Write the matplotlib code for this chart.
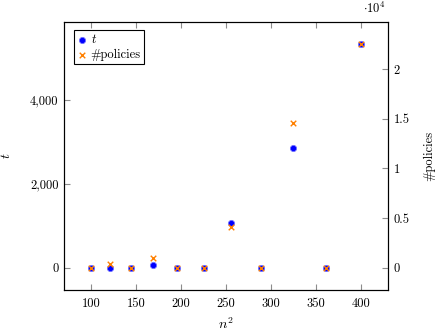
import numpy as np
import matplotlib.pyplot as plt
from matplotlib.ticker import FuncFormatter

plt.rcParams['font.family'] = 'cmr10'
plt.rcParams['mathtext.fontset'] = 'cm'
plt.rcParams['axes.unicode_minus'] = False
plt.rcParams['font.size'] = 9

#%% data
n_sq = [100, 121, 144, 169, 196, 225, 256, 289, 324, 361, 400]
t_vals = [0, 0, 0, 70, 0, 0, 1070, 0, 2850, 0, 5330]
policies = [0, 330, 0, 1000, 0, 0, 4100, 0, 14600, 0, 22500]

#%%
fig = plt.figure(figsize=(4.36, 3.34), dpi=100)
ax = fig.add_axes([0.1468, 0.1317, 0.7431, 0.8024])
ax2 = ax.twinx()

h1 = ax.scatter(n_sq, t_vals, s=20, c='blue', edgecolors=(0.45, 0.45, 1.0),
                linewidths=0.6, marker='o', zorder=3, label='$t$')
h2 = ax2.scatter(n_sq, policies, s=16, c=(1, 0.5, 0), marker='x', linewidths=1.0,
                 zorder=4, label='#policies')

ax.set_xlim(70, 430)
ax.set_ylim(-533, 5863)
ax2.set_ylim(-2250, 24750)

ax.set_xticks([100, 150, 200, 250, 300, 350, 400])
ax.set_yticks([0, 2000, 4000])
ax.yaxis.set_major_formatter(FuncFormatter(lambda v, p: '{:,.0f}'.format(v)))
ax2.set_yticks([0, 5000, 10000, 15000, 20000])
ax2.yaxis.set_major_formatter(FuncFormatter(lambda v, p: '{:g}'.format(v / 1e4)))

ax.tick_params(axis='x', direction='in', top=True, length=4, color='0.55', pad=6)
ax.tick_params(axis='y', direction='in', length=4, color='0.55', pad=4)
ax2.tick_params(axis='y', direction='in', length=4, color='0.55', pad=4)
for a in (ax, ax2):
    for s in a.spines.values():
        s.set_linewidth(0.8)

ax.set_xlabel('$n^2$', fontsize=10, labelpad=4)
ax.set_ylabel('$t$', fontsize=10, labelpad=12)
ax2.set_ylabel('#policies', fontsize=9, labelpad=10)
fig.text(0.832, 0.975, r'$\cdot 10^4$', fontsize=9, va='center')

leg = ax.legend(handles=[h1, h2], loc='upper left', bbox_to_anchor=(0.03, 0.97),
                fancybox=False, edgecolor='black', framealpha=1,
                handletextpad=0.3, borderpad=0.25, handlelength=0.8,
                labelspacing=0.2, borderaxespad=0)
leg.get_frame().set_linewidth(0.8)

plt.savefig('out.png', dpi=100)
